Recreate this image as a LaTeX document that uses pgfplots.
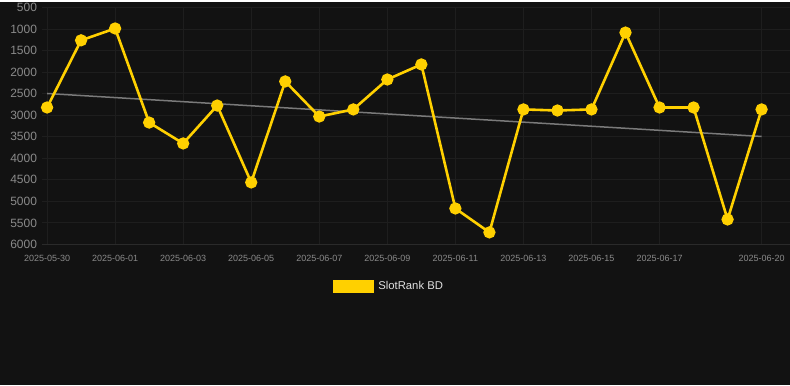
\documentclass[border=0pt]{standalone}
\usepackage{pgfplots}
\pgfplotsset{compat=1.18}
\usepackage{fontspec}
\setmainfont{Liberation Sans}
\definecolor{bg}{HTML}{121212}
\definecolor{gridc}{HTML}{1E1E1E}
\definecolor{basec}{HTML}{2A2A2A}
\definecolor{gold}{HTML}{FFD000}
\definecolor{tickc}{HTML}{8A8A8A}
\definecolor{trendc}{HTML}{7A7A7A}
\begin{document}
\begin{tikzpicture}[x=1pt,y=1pt]
\fill[bg] (0,0) rectangle (790,384);
\begin{axis}[
  at={(42pt,141pt)}, anchor=south west,
  scale only axis, width=748pt, height=237pt,
  xmin=-0.15, xmax=21.82,
  ymin=500, ymax=6000, y dir=reverse,
  ytick={500,1000,...,6000},
  xtick={0,2,4,6,8,10,12,14,16,18,21},
  xticklabels={2025-05-30,2025-06-01,2025-06-03,2025-06-05,2025-06-07,2025-06-09,2025-06-11,2025-06-13,2025-06-15,2025-06-17,2025-06-20},
  /pgf/number format/assume math mode=true,
  /pgf/number format/1000 sep={},
  yticklabel style={font=\fontsize{12}{12}\selectfont, text=tickc, xshift=-1.5pt},
  xticklabel style={font=\fontsize{9}{10}\selectfont, text=tickc, yshift=-7pt},
  grid=both, major grid style={gridc, line width=1pt},
  axis line style={draw=none}, tick style={draw=none},
  axis background/.style={fill=bg},
  legend style={at={(0.389,-0.177)}, anchor=west, draw=none, fill=none, text=white!88!black, font=\fontsize{11.3}{12}\selectfont, inner sep=0pt, outer sep=0pt},
  legend image code/.code={\fill[gold] (0pt,-5.5pt) rectangle (39pt,5.5pt);},
  legend cell align=left,
  clip=false,
]
\draw[basec, line width=1pt] (axis cs:-0.15,6000) -- (axis cs:21.82,6000);
\addplot[trendc, line width=1.5pt, forget plot] coordinates {(0,2495) (21,3493)};
\addplot[gold, line width=2.6pt, mark=*, mark size=4.8pt, mark options={fill=gold, draw=none}] coordinates {
(0,2820) (1,1260) (2,985) (3,3170) (4,3655) (5,2775) (6,4560) (7,2215) (8,3030) (9,2865) (10,2170)
(11,1820) (12,5165) (13,5720) (14,2865) (15,2890) (16,2865) (17,1080) (18,2820) (19,2820) (20,5420) (21,2865)};
\addlegendentry{\hspace{2pt}SlotRank BD}
\end{axis}
\end{tikzpicture}
\end{document}
